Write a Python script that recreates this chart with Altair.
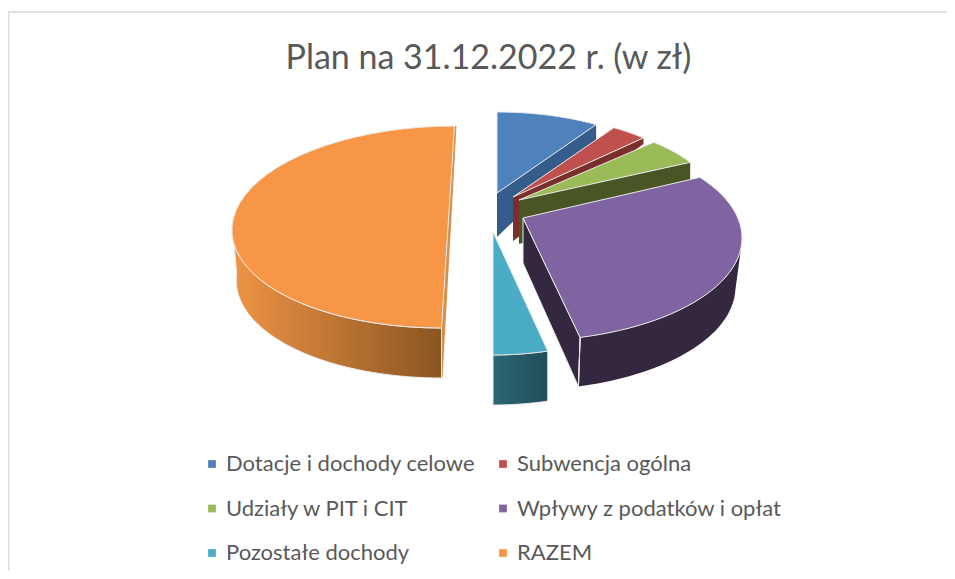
import math
import altair as alt

TITLE = "Plan na 31.12.2022 r. (w zł)"
CATEGORIES = ["Dotacje i dochody celowe", "Subwencja ogólna", "Udziały w PIT i CIT",
              "Wpływy z podatków i opłat", "Pozostałe dochody", "RAZEM"]
VALUES = [9.0, 3.2, 5.0, 28.6, 4.2, 50.0]   # share of the pie
COLORS = ["#4f81bd", "#c0504d", "#9bbb59", "#8064a2", "#4bacc6", "#f79646"]
DARK = ["#355d8c", "#7a2f2d", "#4a5526", "#33283f", "#2a5f6c", "#d98f4c"]

W, H = 939, 563
# 3-D look: each slice's tilted ellipse (apex x,y / centre x,y / radii / shear)
# d0 is a perspective correction of the slice's first edge, in degrees
GEOM = [
    dict(ax=497, ay=193, cx=497, cy=193, rx=185, ry=81, sk=0, d0=0),
    dict(ax=513, ay=197, cx=513, cy=197, rx=188, ry=82, sk=0, d0=0),
    dict(ax=519, ay=200, cx=519, cy=200, rx=194, ry=80, sk=0, d0=0),
    dict(ax=523, ay=218, cx=523, cy=238, rx=219, ry=103, sk=0, d0=-8),
    dict(ax=493, ay=232, cx=493, cy=241, rx=210, ry=114, sk=0, d0=0),
    dict(ax=None, ay=None, cx=448, cy=227, rx=216, ry=101, sk=6.5, d0=0),
]
DEPTH = 49

total = sum(VALUES)
edges = [0.0]
for v in VALUES:
    edges.append(edges[-1] + v / total * 360)


def arc(g, t0, t1, dy=0.0, shrink=1.0, n=40):
    pts = []
    for i in range(n + 1):
        t = math.radians(t0 + (t1 - t0) * i / n)
        pts.append((g["cx"] + g["rx"] * shrink * math.sin(t) + g["sk"] * math.cos(t),
                    g["cy"] - g["ry"] * math.cos(t) + dy))
    return pts


xs = alt.Scale(domain=[8, 8 + W], range=[0, W])
ys = alt.Scale(domain=[8, 8 + H], range=[0, H])


def poly(points, fill, stroke="#e9e9e9", sw=1.0):
    rows = [{"x": p[0], "y": p[1], "i": i} for i, p in enumerate(points + points[:1])]
    return alt.Chart(alt.Data(values=rows)).mark_line(
        fill=fill, stroke=stroke, strokeWidth=sw, strokeJoin="round"
    ).encode(
        x=alt.X("x:Q", scale=xs, axis=None),
        y=alt.Y("y:Q", scale=ys, axis=None),
        order="i:Q",
    )


def grad(c0, c1):
    return alt.Gradient(gradient="linear", x1=0, x2=1, y1=0, y2=0,
                        stops=[alt.GradientStop(color=c0, offset=0),
                               alt.GradientStop(color=c1, offset=1)])


layers = []
# frame
layers.append(alt.Chart().mark_rule(color="#d9d9d9", strokeWidth=1.5).encode(
    x=alt.value(0.5), y=alt.value(4), y2=alt.value(H)))
layers.append(alt.Chart().mark_rule(color="#d9d9d9", strokeWidth=1.5).encode(
    x=alt.value(0), x2=alt.value(W), y=alt.value(4)))

# blue, red, green: the cut face, then the top
for k, end_depth in zip([0, 1, 2], [18, 6, 30]):
    g = GEOM[k]
    top = arc(g, edges[k] + g["d0"], edges[k + 1])
    e = top[-1]
    layers.append(poly([(g["ax"], g["ay"]), e, (e[0], e[1] + end_depth),
                        (g["ax"], g["ay"] + 44)], DARK[k], stroke="none"))
    layers.append(poly([(g["ax"], g["ay"])] + top, COLORS[k]))

# purple
g = GEOM[3]
top = arc(g, edges[3] + g["d0"], edges[4])
low = arc(g, 92, edges[4], dy=DEPTH, shrink=0.97)
layers.append(poly(arc(g, 92, edges[4]) + low[::-1], "#33283f", stroke="none"))
e = top[-1]
layers.append(poly([(g["ax"], g["ay"]), e, low[-1], (g["ax"], g["ay"] + 45)], "#33283f"))
layers.append(poly([e, low[-1]], "#33283f"))
layers.append(poly([(g["ax"], g["ay"])] + top, COLORS[3]))

# teal
g = GEOM[4]
top = arc(g, edges[4], edges[5])
low = arc(g, edges[4], edges[5], dy=DEPTH + 1)
layers.append(poly(top + low[::-1], grad("#2d6673", "#1f4d59"), stroke="#e9e9e9"))
layers.append(poly([(g["ax"], g["ay"])] + top, COLORS[4]))

# orange
g = GEOM[5]
top = arc(g, edges[5], edges[6])
layers.append(poly([top[0], top[-1], (top[-1][0] + 2, top[-1][1]),
                    (top[0][0] + 1, top[0][1] + DEPTH + 1), (top[0][0], top[0][1] + DEPTH + 1)],
                   DARK[5], stroke="none"))
fr = arc(g, edges[5], edges[5] + 92)
fl = arc(g, edges[5], edges[5] + 92, dy=DEPTH + 1, shrink=0.98)
layers.append(poly(fr + fl[::-1], grad("#ef9445", "#8a5522")))
layers.append(poly(top, COLORS[5]))

# legend carrier: zero-size squares, one per category
legend_rows = [{"label": c, "x": 20, "y": 20} for c in CATEGORIES]
layers.append(
    alt.Chart(alt.Data(values=legend_rows)).mark_square(size=0).encode(
        x=alt.X("x:Q", scale=xs, axis=None),
        y=alt.Y("y:Q", scale=ys, axis=None),
        color=alt.Color("label:N", scale=alt.Scale(domain=CATEGORIES, range=COLORS),
                        legend=alt.Legend(
                            title=None, orient="none", legendX=193, legendY=445, columns=2,
                            direction="horizontal",
                            symbolType="square", symbolSize=60, symbolStrokeWidth=0,
                            symbolOpacity=1,
                            labelFont="Lato", labelFontSize=22, labelColor="#595959",
                            labelOffset=3, rowPadding=22.5, columnPadding=16,
                            labelLimit=400)),
    )
)

chart = alt.layer(*layers).properties(
    width=W, height=H, padding=0,
    autosize=alt.AutoSizeParams(type="none"),
    title=alt.TitleParams(TITLE, font="Lato", fontSize=34, fontWeight="normal",
                          color="#595959", anchor="middle", dx=11, dy=72),
).configure_view(stroke=None)

chart.save("out.html", embed_options={"renderer": "svg", "actions": False})
